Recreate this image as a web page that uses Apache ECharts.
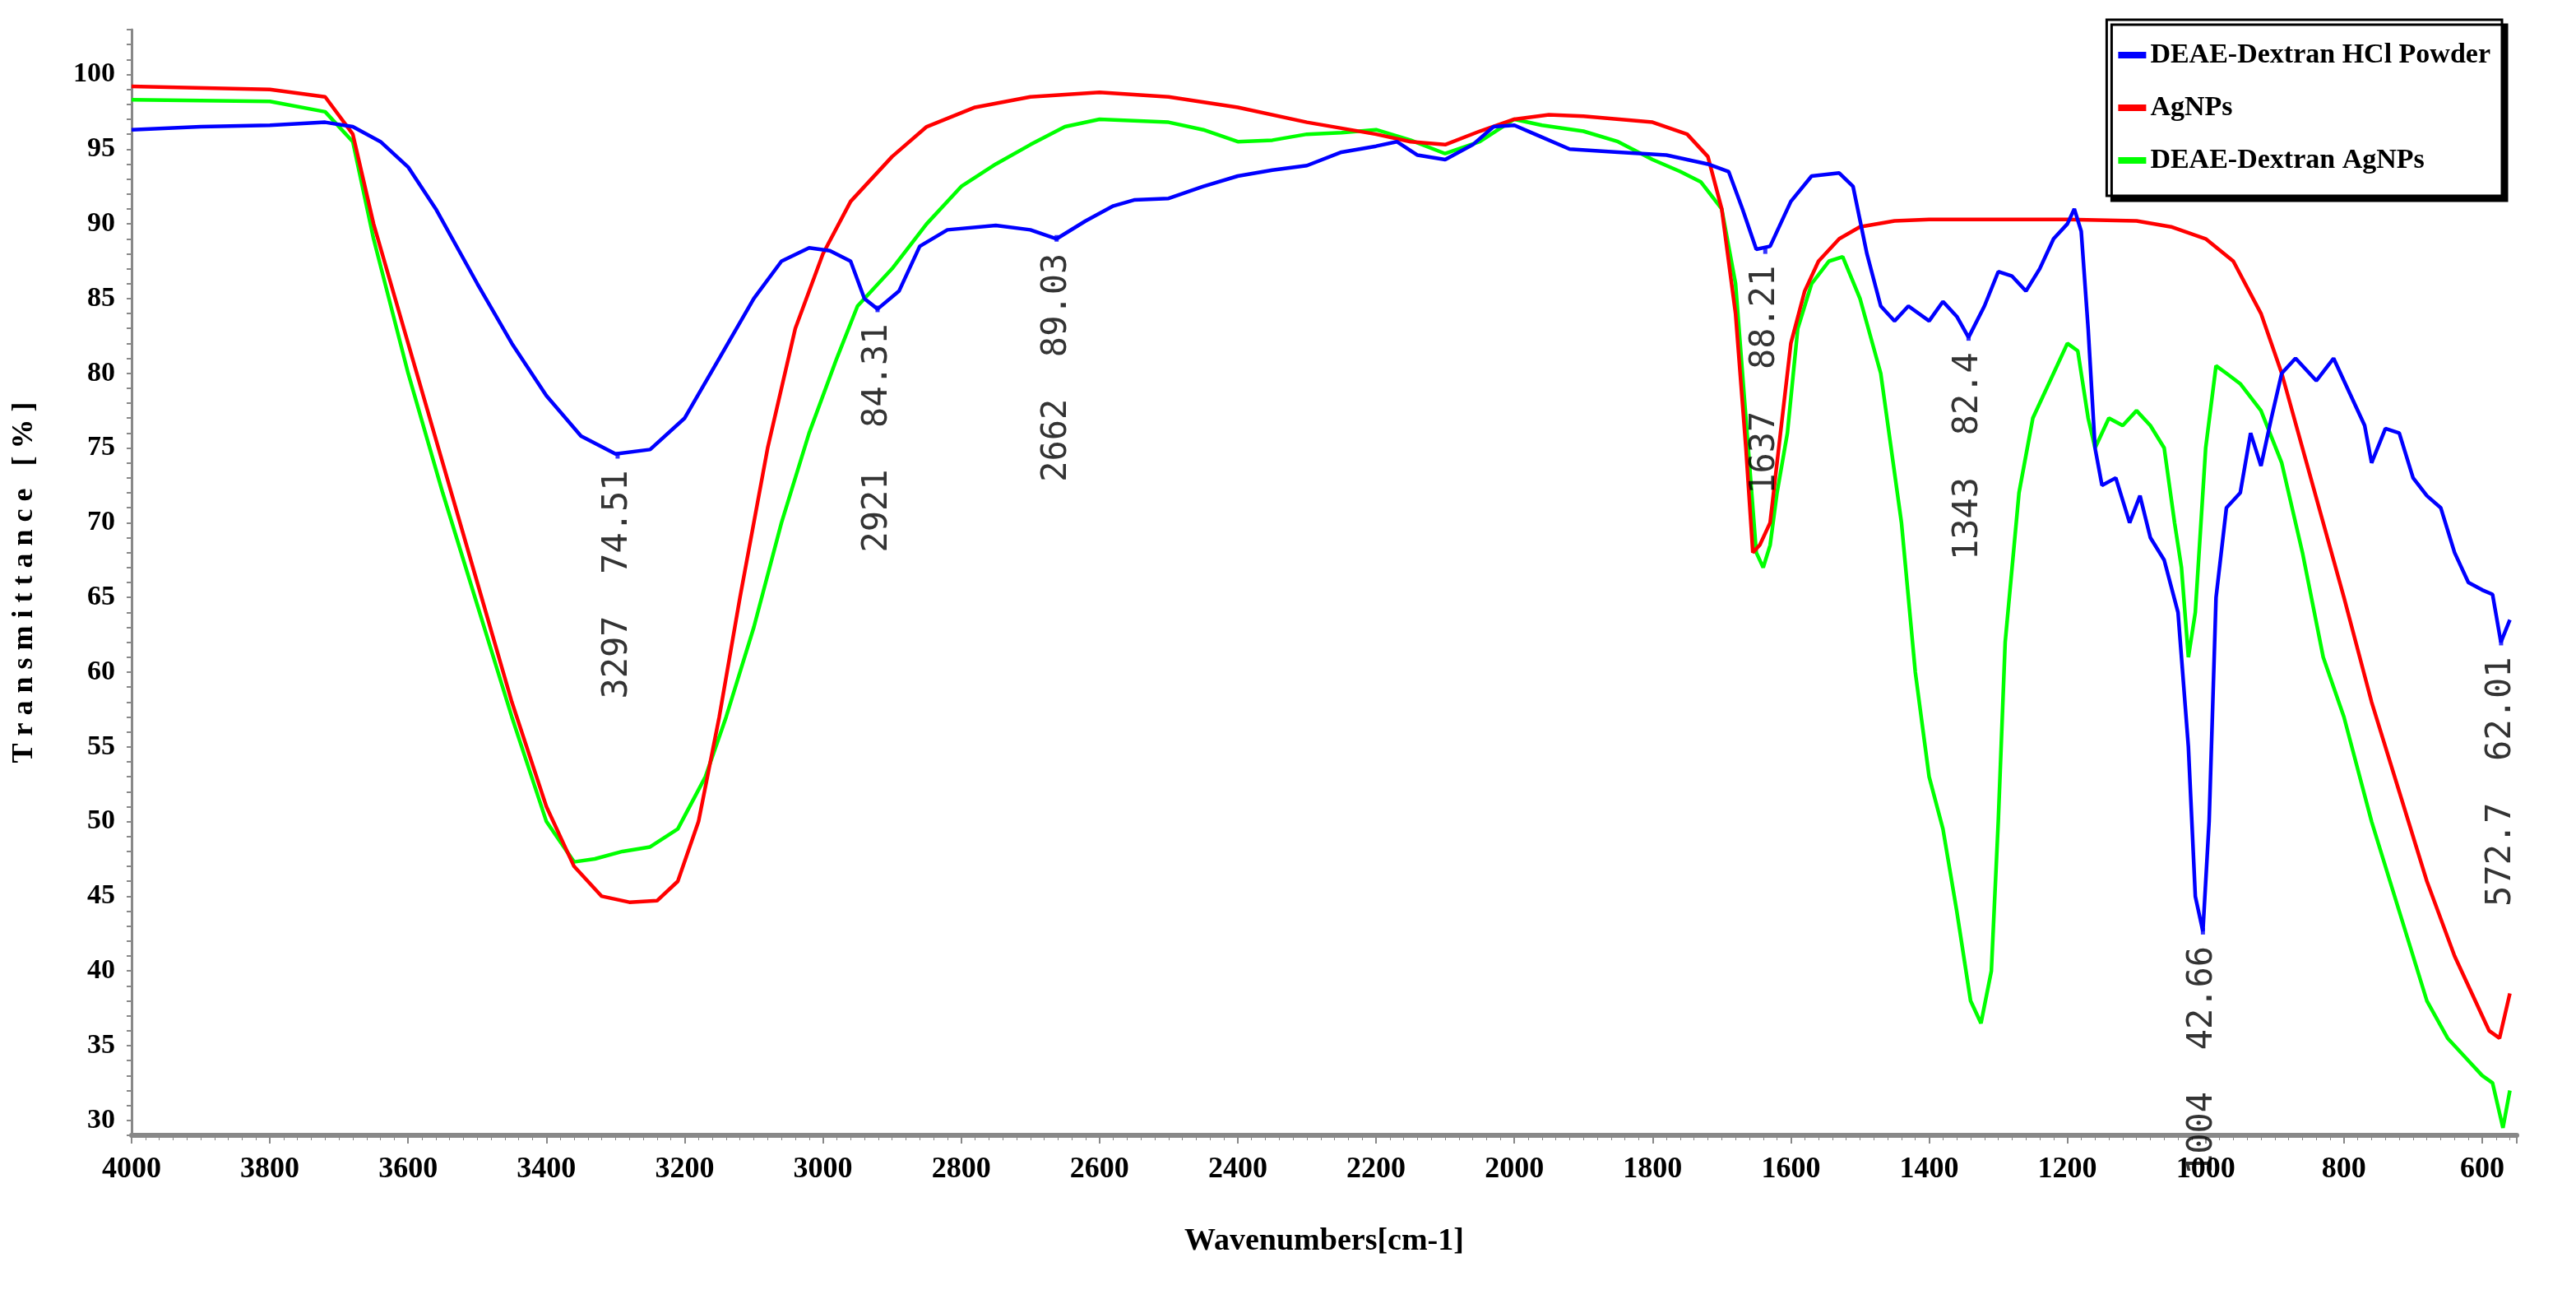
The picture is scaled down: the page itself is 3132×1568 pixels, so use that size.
<!DOCTYPE html>
<html><head><meta charset="utf-8">
<script src="https://cdn.jsdelivr.net/npm/echarts@6/dist/echarts.min.js"></script>
<style>html,body{margin:0;padding:0;background:#fff}#c{width:3132px;height:1568px}</style>
</head><body><div id="c"></div>
<script>
const seriesNames = ['DEAE-Dextran HCl Powder', 'AgNPs', 'DEAE-Dextran AgNPs'];
const colors = ['#0000ff', '#ff0000', '#00ff00'];
const blueWn = [4000,3900,3800,3720,3680,3640,3600,3560,3500,3450,3400,3350,3300,3250,3200,3150,3100,3060,3020,2990,2960,2940,2921,2890,2860,2820,2750,2700,2662,2620,2580,2550,2500,2450,2400,2350,2300,2250,2200,2170,2140,2100,2060,2030,2000,1970,1920,1850,1780,1720,1690,1670,1650,1630,1600,1570,1530,1510,1490,1470,1450,1430,1400,1380,1360,1343,1320,1300,1280,1260,1240,1220,1200,1190,1180,1170,1160,1150,1130,1110,1095,1080,1060,1040,1025,1015,1004,995,985,970,950,935,920,905,890,870,840,815,790,770,760,740,720,700,680,660,640,620,600,585,573,560];
const blueT = [96.3,96.5,96.6,96.8,96.5,95.5,93.8,91,86,82,78.5,75.8,74.6,74.9,77,81,85,87.5,88.4,88.2,87.5,85,84.3,85.5,88.5,89.6,89.9,89.6,89.0,90.2,91.2,91.6,91.7,92.5,93.2,93.6,93.9,94.8,95.2,95.5,94.6,94.3,95.3,96.5,96.6,96,95,94.8,94.6,94,93.5,91,88.3,88.5,91.5,93.2,93.4,92.5,88,84.5,83.5,84.5,83.5,84.8,83.8,82.4,84.5,86.8,86.5,85.5,87,89,90,91,89.5,83,75,72.5,73,70,71.8,69,67.5,64,55,45,42.66,50,65,71,72,76,73.8,77,80,81,79.5,81,78.5,76.5,74,76.3,76,73,71.8,71,68,66,65.5,65.2,62,63.5];
const redWn = [4000,3800,3720,3680,3650,3600,3550,3500,3450,3400,3360,3320,3280,3240,3210,3180,3150,3120,3080,3040,3000,2960,2900,2850,2780,2700,2600,2500,2400,2300,2200,2150,2100,2050,2000,1950,1900,1800,1750,1720,1700,1680,1665,1655,1645,1630,1610,1600,1580,1560,1530,1500,1450,1400,1300,1200,1100,1050,1000,960,920,890,860,830,800,760,720,680,640,610,600,590,575,560];
const redT = [99.2,99,98.5,96,90,82,74,66,58,51,47,45,44.6,44.7,46,50,57,65,75,83,88,91.5,94.5,96.5,97.8,98.5,98.8,98.5,97.8,96.8,96,95.5,95.3,96.2,97.0,97.3,97.2,96.8,96,94.5,91,84,75,68,68.5,70,78,82,85.5,87.5,89,89.8,90.2,90.3,90.3,90.3,90.2,89.8,89,87.5,84,80,75,70,65,58,52,46,41,38,37,36,35.5,38.5];
const greenWn = [4000,3800,3720,3680,3650,3600,3550,3500,3450,3400,3360,3330,3290,3250,3210,3170,3140,3100,3060,3020,2980,2950,2900,2850,2800,2750,2700,2650,2600,2500,2450,2400,2350,2300,2250,2200,2150,2100,2050,2000,1960,1900,1850,1800,1760,1730,1700,1680,1665,1650,1640,1630,1620,1605,1590,1570,1545,1525,1500,1470,1440,1420,1400,1380,1360,1340,1325,1310,1300,1290,1270,1250,1220,1200,1185,1170,1160,1140,1120,1100,1080,1060,1045,1035,1025,1015,1000,985,970,950,920,890,860,830,800,760,720,680,650,620,600,585,570,560];
const greenT = [98.3,98.2,97.5,95.5,89,80,72,64.5,57,50,47.3,47.5,48,48.3,49.5,53,57,63,70,76,81,84.5,87,90,92.5,94,95.3,96.5,97,96.8,96.3,95.5,95.6,96,96.1,96.3,95.6,94.7,95.5,97,96.6,96.2,95.5,94.3,93.5,92.8,91,86,77,68,67,68.5,72,76,83,86,87.5,87.8,85,80,70,60,53,49.5,44,38,36.5,40,50,62,72,77,80,82,81.5,77,75,77,76.5,77.5,76.5,75,70,67,61,64,75,80.5,80,79.3,77.5,74,68,61,57,50,44,38,35.5,34,33,32.5,29.5,32];
const peakWn = [3297, 2921, 2662, 1637, 1343, 1004, 572.7];
const peakT = [74.51, 84.31, 89.03, 88.21, 82.4, 42.66, 62.01];
const xTicks = [4000,3800,3600,3400,3200,3000,2800,2600,2400,2200,2000,1800,1600,1400,1200,1000,800,600];

const X0 = 4000;
const toPts = (w, t) => w.map((v, i) => [X0 - v, t[i]]);
const font = '"Liberation Serif", serif';
const chart = echarts.init(document.getElementById('c'));
const lines = [[blueWn, blueT], [redWn, redT], [greenWn, greenT]].map((d, i) => ({
  name: seriesNames[i], type: 'line', showSymbol: false, symbol: 'none',
  data: toPts(d[0], d[1]), lineStyle: { color: colors[i], width: 4.5 }, itemStyle: { color: colors[i] },
  z: 3 - i
}));
lines.push({
  type: 'scatter', symbol: 'rect', symbolSize: [5, 8], itemStyle: { color: '#0000ff' },
  data: peakWn.map((w, i) => ({ value: [X0 - w, peakT[i]], name: w + '  ' + peakT[i] })),
  label: { show: true, position: 'bottom', distance: 14, rotate: 90, align: 'right', verticalAlign: 'middle',
    formatter: p => p.name, fontFamily: '"DejaVu Sans Mono", monospace', fontSize: 42, color: '#000' },
  z: 5
});
chart.setOption({
  animation: false,
  backgroundColor: '#fff',
  grid: { left: 160, right: 72, top: 36, bottom: 188 },
  legend: {
    data: seriesNames, orient: 'vertical', right: 90, top: 24,
    backgroundColor: '#fff', borderColor: '#000', borderWidth: 3,
    shadowColor: '#000', shadowOffsetX: 6, shadowOffsetY: 6,
    padding: [26, 14, 26, 14], itemGap: 30, itemWidth: 34, itemHeight: 8, icon: 'rect',
    textStyle: { fontFamily: font, fontWeight: 'bold', fontSize: 34, color: '#000' }
  },
  xAxis: {
    type: 'value', min: 0, max: 3450, interval: 200,
    name: 'Wavenumbers[cm-1]', nameLocation: 'middle', nameGap: 110,
    nameTextStyle: { fontFamily: font, fontWeight: 'bold', fontSize: 38, color: '#000' },
    axisLine: { lineStyle: { color: '#888', width: 6 } },
    axisTick: { show: true, length: 10, lineStyle: { color: '#888', width: 2 } },
    minorTick: { show: true, splitNumber: 10, length: 6, lineStyle: { color: '#888' } },
    splitLine: { show: false },
    axisLabel: { formatter: v => xTicks.includes(X0 - v) ? String(X0 - v) : '', margin: 24,
      fontFamily: font, fontWeight: 'bold', fontSize: 36, color: '#000' }
  },
  yAxis: {
    type: 'value', min: 29, max: 103, interval: 1,
    name: 'T r a n s m i t t a n c e   [ % ]', nameLocation: 'middle', nameGap: 112,
    nameTextStyle: { fontFamily: font, fontWeight: 'bold', fontSize: 36, color: '#000' },
    axisLine: { show: true, lineStyle: { color: '#888', width: 3 } },
    axisTick: { show: true, length: 6, lineStyle: { color: '#888', width: 2 } },
    splitLine: { show: false },
    axisLabel: { formatter: v => v % 5 === 0 ? String(v) : '', margin: 20,
      fontFamily: font, fontWeight: 'bold', fontSize: 34, color: '#000' }
  },
  series: lines
});
</script></body></html>
